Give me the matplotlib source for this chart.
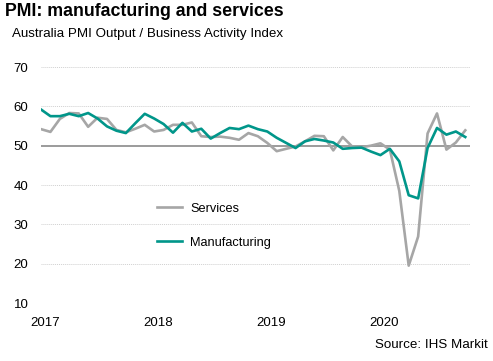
import numpy as np
import matplotlib.pyplot as plt
from matplotlib.lines import Line2D

plt.rcParams["font.family"] = ["Liberation Sans", "DejaVu Sans"]

# monthly readings, Jan 2017 .. Oct 2020
services = [54.2, 53.5, 56.8, 58.3, 58.2, 54.8, 57.1, 56.8, 54.0, 53.4,
            54.3, 55.3, 53.6, 54.0, 55.3, 55.3, 55.9, 52.4, 52.2, 52.3,
            52.0, 51.5, 53.2, 52.4, 50.7, 48.6, 49.2, 49.8, 51.1, 52.5,
            52.4, 48.8, 52.2, 49.8, 49.6, 50.0, 50.6, 49.0, 38.5, 19.5,
            26.9, 53.1, 58.2, 49.0, 50.8, 53.9]
manufacturing = [59.2, 57.5, 57.5, 58.1, 57.5, 58.3, 56.9, 54.9, 53.8, 53.2,
                 55.7, 58.1, 56.9, 55.5, 53.3, 55.8, 53.6, 54.3, 51.8, 53.2,
                 54.5, 54.2, 55.1, 54.2, 53.6, 52.0, 50.7, 49.4, 51.1, 51.7,
                 51.3, 50.8, 49.2, 49.4, 49.5, 48.5, 47.6, 49.2, 46.0, 37.4,
                 36.6, 49.4, 54.5, 52.8, 53.6, 52.2]
years = ["2017", "2018", "2019", "2020"]
yticks = [10, 20, 30, 40, 50, 60, 70]

months = np.arange(len(services))
teal = "#00968a"
grey = "#a6a6a6"

fig = plt.figure(figsize=(4.93, 3.61), dpi=100)
ax = fig.add_axes([41 / 493, 1 - 303 / 361, 429 / 493, 236 / 361])

for v in yticks:
    if v == 50:
        ax.axhline(v, color="#808080", lw=1.1, zorder=1)
    else:
        ax.axhline(v, color="#d0d0d0", lw=0.7, ls=(0, (1, 1)), zorder=1)

ax.plot(months, services, color=grey, lw=1.9, zorder=2)
ax.plot(months, manufacturing, color=teal, lw=1.9, zorder=3)

ax.set_xlim(0, 45.5)
ax.set_ylim(10, 70)
ax.set_yticks(yticks)
ax.set_xticks([i * 12 + 0.4 for i in range(len(years))])
ax.set_xticklabels(years)
ax.tick_params(length=0, labelsize=9.5, colors="black")
ax.tick_params(axis="y", pad=9)
ax.tick_params(axis="x", pad=10)
for s in ax.spines.values():
    s.set_visible(False)

handles = [Line2D([], [], color=grey, lw=1.9), Line2D([], [], color=teal, lw=1.9)]
ax.legend(handles, ["Services", "Manufacturing"], loc="upper left",
          bbox_to_anchor=(0.27, 0.424), frameon=False, fontsize=9.2,
          handlelength=2.0, handletextpad=0.6, labelspacing=1.7,
          borderpad=0, borderaxespad=0)

fig.text(5 / 493, 1 - 12 / 361, "PMI: manufacturing and services",
         fontsize=12.8, fontweight="bold", va="center", ha="left")
fig.text(12 / 493, 1 - 34 / 361, "Australia PMI Output / Business Activity Index",
         fontsize=9.6, va="center", ha="left")
fig.text(488 / 493, 1 - 345 / 361, "Source: IHS Markit",
         fontsize=9.6, va="center", ha="right")

fig.savefig("out.png", dpi=100)
